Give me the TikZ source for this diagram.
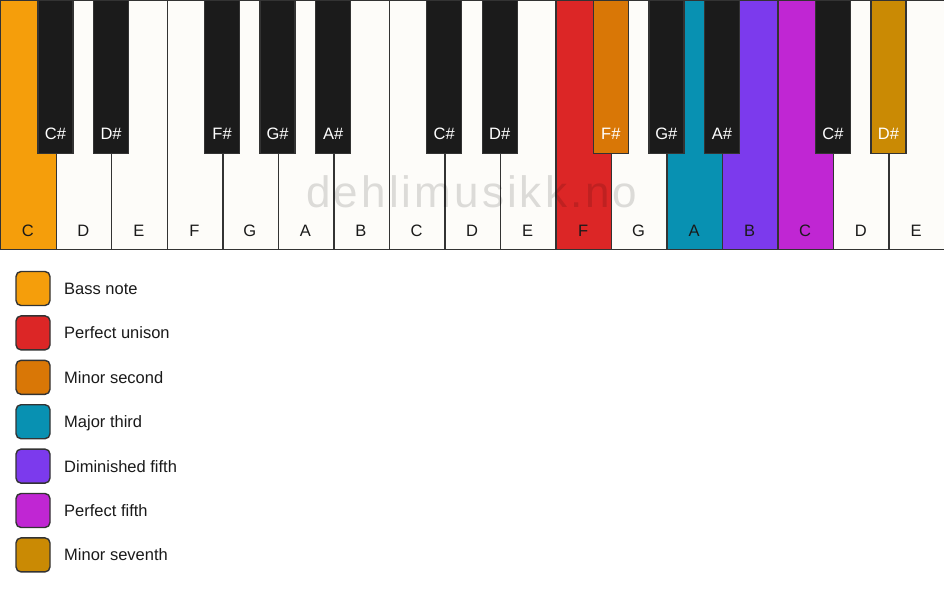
\documentclass[tikz,border=0pt]{standalone}
\usepackage{fontspec}
\setmainfont{Liberation Sans}
\newfontfamily\wmfont[LetterSpace=7]{Liberation Sans}
\definecolor{keywhite}{HTML}{FDFCF9}
\definecolor{keyblack}{HTML}{1B1B1B}
\definecolor{keyline}{HTML}{333333}
\definecolor{inkdark}{HTML}{1A1A1A}
\definecolor{cbass}{HTML}{F59E0B}
\definecolor{cunison}{HTML}{DC2626}
\definecolor{cminsec}{HTML}{D97706}
\definecolor{cmajthird}{HTML}{0891B2}
\definecolor{cdimfifth}{HTML}{7C3AED}
\definecolor{cperfifth}{HTML}{C026D3}
\definecolor{cminsev}{HTML}{CA8A04}
\tikzset{
  whitekey/.style={rectangle, draw=keyline, line width=1.4pt, minimum width=55.53pt, minimum height=249pt, inner sep=0pt, anchor=north west},
  blackkey/.style={rectangle, draw=keyline, line width=1.4pt, minimum width=35pt, minimum height=153pt, inner sep=0pt, anchor=north},
  wlabel/.style={font=\fontsize{16.5}{18}\selectfont, text=inkdark, inner sep=0pt, anchor=base},
  blabel/.style={font=\fontsize{16.5}{18}\selectfont, text=white, inner sep=0pt, anchor=base},
  legbox/.style={rectangle, rounded corners=5pt, draw=keyline, line width=1.4pt, minimum width=34pt, minimum height=34pt, inner sep=0pt},
  legtext/.style={font=\fontsize{16.5}{18}\selectfont, text=inkdark, anchor=base west, inner sep=0pt},
  watermark/.style={font=\wmfont\fontsize{44}{46}\selectfont, text=black, text opacity=0.13, inner sep=0pt, anchor=base}
}
\begin{document}
\begin{tikzpicture}[x=1pt,y=-1pt]
\useasboundingbox (0,0) rectangle (944,594);
\fill[white] (0,0) rectangle (944,594);
% white keys
\foreach \i/\n/\c in {0/C/cbass,1/D/keywhite,2/E/keywhite,3/F/keywhite,4/G/keywhite,5/A/keywhite,6/B/keywhite,7/C/keywhite,8/D/keywhite,9/E/keywhite,10/F/cunison,11/G/keywhite,12/A/cmajthird,13/B/cdimfifth,14/C/cperfifth,15/D/keywhite,16/E/keywhite}{
  \node[whitekey, fill=\c] (w\i) at (\i*55.5294,0) {};
  \node[wlabel] (wl\i) at (\i*55.5294+27.765,236) {\n};
}
% watermark
\node[watermark] (wm) at (472,207) {dehlimusikk.no};
% black keys
\foreach \b/\n/\c in {1/C\#/keyblack,2/D\#/keyblack,4/F\#/keyblack,5/G\#/keyblack,6/A\#/keyblack,8/C\#/keyblack,9/D\#/keyblack,11/F\#/cminsec,12/G\#/keyblack,13/A\#/keyblack,15/C\#/keyblack,16/D\#/cminsev}{
  \node[blackkey, fill=\c] (b\b) at (\b*55.5294,0) {};
  \node[blabel] (bl\b) at (\b*55.5294,139) {\n};
}
% legend
\foreach \k/\c/\t in {0/cbass/Bass note,1/cunison/Perfect unison,2/cminsec/Minor second,3/cmajthird/Major third,4/cdimfifth/Diminished fifth,5/cperfifth/Perfect fifth,6/cminsev/Minor seventh}{
  \node[legbox, fill=\c] (lb\k) at (33,288.5+44.4*\k) {};
  \node[legtext] (lt\k) at (64,294.5+44.4*\k) {\t};
}
\end{tikzpicture}
\end{document}
